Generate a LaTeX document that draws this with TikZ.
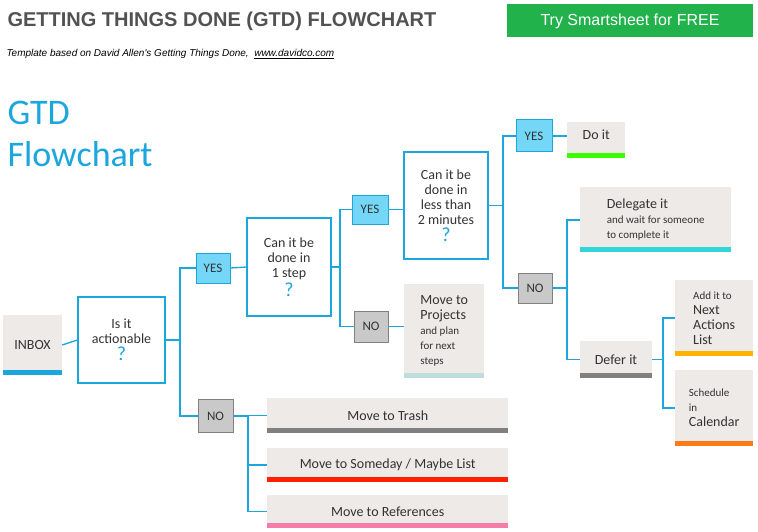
\documentclass[tikz,border=0pt]{standalone}
\usepackage{fontspec}
\setmainfont{Carlito}
\newfontfamily\titlefont{Liberation Sans}
\usetikzlibrary{positioning}
\definecolor{gtdcyan}{HTML}{1BA6DE}
\definecolor{gtdtext}{HTML}{333333}
\definecolor{gtdcard}{HTML}{EDEAE8}
\definecolor{gtdyes}{HTML}{74D7F7}
\definecolor{gtdno}{HTML}{C9C9C9}
\definecolor{gtdgreen}{HTML}{21B24B}
\tikzstyle{question} = [draw=gtdcyan, line width=1.3pt, fill=white, align=center, text=gtdtext, font=\fontsize{14}{15}\selectfont, inner sep=2pt]
\tikzstyle{yesbox} = [draw=gtdcyan, line width=1pt, fill=gtdyes, text=gtdtext, font=\fontsize{13}{14}\selectfont, inner sep=0pt]
\tikzstyle{nobox} = [draw=gray, line width=1pt, fill=gtdno, text=gtdtext, font=\fontsize{13}{14}\selectfont, inner sep=0pt]
\tikzstyle{card} = [fill=gtdcard, text=gtdtext, align=left, font=\fontsize{14}{15}\selectfont, inner sep=4pt]
\tikzstyle{link} = [draw=gtdcyan, line width=1.3pt]
\newcommand{\qmark}{\color{gtdcyan}\fontsize{20}{20}\selectfont ?}
\newcommand{\smallfont}{\fontsize{11}{12}\selectfont}
\newcommand{\bigfont}{\fontsize{14}{15}\selectfont}
\newcommand{\cardbar}[2]{\fill[#2] (#1.south west) rectangle ([yshift=5pt]#1.south east);}
\begin{document}
\begin{tikzpicture}[x=1pt, y=-1pt]
		\useasboundingbox[fill=white] (0,0) rectangle (758,532);
		% Header
		\node[anchor=west, text=gtdtext!85, font=\titlefont\bfseries\fontsize{20}{20}\selectfont] (title) at (4,21) {GETTING THINGS DONE (GTD) FLOWCHART};
		\node[fill=gtdgreen, text=white, minimum width=246pt, minimum height=33pt, font=\titlefont\fontsize{16}{16}\selectfont] (try) at (630,21) {Try Smartsheet for FREE};
		\node[anchor=west, font=\titlefont\itshape\fontsize{10}{10}\selectfont] (sub) at (3,54) {Template based on David Allen's Getting Things Done,\ \ \underline{www.davidco.com}};
		\node[anchor=north west, align=left, text=gtdcyan, font=\fontsize{36}{42}\selectfont] (gtd) at (4,98) {GTD\\Flowchart};
		
		% Questions and answers
		\node[card, minimum width=59pt, minimum height=60pt] (inbox) at (32.5,345) {INBOX};
		\cardbar{inbox}{gtdcyan}
		\node[question, minimum width=87pt, minimum height=86pt] (act) at (121.5,340) {Is it\\actionable\\[2pt]\qmark};
		\node[yesbox, minimum width=34pt, minimum height=30pt] (yesA) at (213,268) {YES};
		\node[nobox, minimum width=35pt, minimum height=33pt] (noA) at (215.5,416) {NO};
		\node[question, minimum width=84pt, minimum height=98pt] (step) at (289,267) {Can it be\\done in\\1 step\\[2pt]\qmark};
		\node[yesbox, minimum width=36pt, minimum height=29pt] (yesB) at (370,209.5) {YES};
		\node[nobox, minimum width=34pt, minimum height=31pt] (noB) at (371,326.5) {NO};
		\node[question, minimum width=84pt, minimum height=107pt] (mins) at (446,205.5) {Can it be\\done in\\less than\\2 minutes\\[2pt]\qmark};
		\node[yesbox, minimum width=36pt, minimum height=32pt] (yesC) at (534,136) {YES};
		\node[nobox, minimum width=34pt, minimum height=30pt] (noC) at (535,288) {NO};
		
		% Outcomes
		\node[card, anchor=north west, minimum width=58pt, minimum height=36pt, text depth=12pt] (doit) at (567,122) {Do it};
		\cardbar{doit}{green!70!lime}
		\node[card, anchor=north west, minimum width=151pt, minimum height=65pt] (deleg) at (580,187) {Delegate it\\\smallfont and wait for someone\\\smallfont to complete it};
		\cardbar{deleg}{teal!40!cyan!80}
		\node[card, minimum width=72pt, minimum height=37pt] (defer) at (616,359.5) {Defer it};
		\cardbar{defer}{gray}
		\node[card, anchor=north west, minimum width=78pt, minimum height=76pt] (next) at (675,280) {\smallfont Add it to\\\bigfont Next\\\bigfont Actions\\\bigfont List};
		\cardbar{next}{orange!60!yellow}
		\node[card, anchor=north west, minimum width=78pt, minimum height=76pt] (sched) at (675,370) {\smallfont Schedule\\\smallfont in\\\bigfont Calendar};
		\cardbar{sched}{orange!85!red!90}
		\node[card, anchor=north west, minimum width=80pt, minimum height=94pt] (proj) at (404,284) {Move to\\Projects\\\smallfont and plan\\\smallfont for next\\\smallfont steps};
		\cardbar{proj}{teal!25}
		\node[card, anchor=west, minimum width=241pt, minimum height=35pt] (trash) at (267,415.5) {Move to Trash};
		\cardbar{trash}{gray}
		\node[card, anchor=west, minimum width=241pt, minimum height=34pt] (some) at (267,465) {Move to Someday / Maybe List};
		\cardbar{some}{red!75!orange}
		\node[card, anchor=west, minimum width=241pt, minimum height=33pt] (refs) at (267,511.5) {Move to References};
		\cardbar{refs}{magenta!35!pink}
		
		% Connectors
		\draw[link] (inbox.east) -- (act.west);
		\draw[link] (act.east) -- (180,340) coordinate (jA);
		\draw[link] (yesA.west) -| (jA) |- (noA.west);
		\draw[link] (yesA.east) -- (step.west);
		\draw[link] (step.east) -- (340,267) coordinate (jB);
		\draw[link] (yesB.west) -| (jB) |- (noB.west);
		\draw[link] (yesB.east) -- (mins.west |- yesB.east);
		\draw[link] (noB.east) -- (proj.west |- noB.east);
		\draw[link] (mins.east) -- (503,205.5) coordinate (jC);
		\draw[link] (yesC.west) -| (jC) |- (noC.west);
		\draw[link] (yesC.east) -- (doit.west |- yesC.east);
		\draw[link] (noC.east) -- (567,288) coordinate (jD);
		\draw[link] (deleg.west |- 0,220) -| (jD) |- (defer.west);
		\draw[link] (defer.east) -- (663,359.5) coordinate (jE);
		\draw[link] (next.west |- 0,318) -| (jE) |- (sched.west |- 0,408);
		\draw[link] (noA.east) -- (248,416) coordinate (jF);
		\draw[link] (trash.west) -| (jF) |- (some.west);
		\draw[link] (jF) |- (refs.west);
\end{tikzpicture}
\end{document}
